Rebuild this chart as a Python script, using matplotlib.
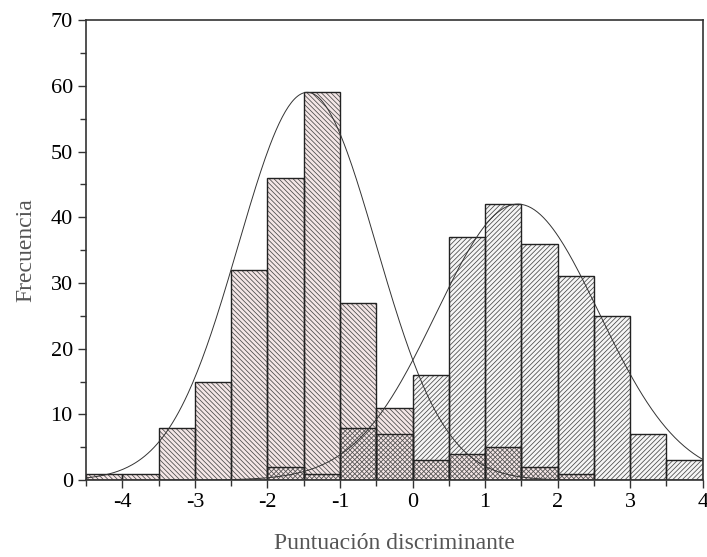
import numpy as np
import matplotlib
import matplotlib.pyplot as plt

matplotlib.rcParams['font.family'] = "serif"
matplotlib.rcParams['font.serif'] = ["Liberation Serif", "DejaVu Serif"]
matplotlib.rcParams['hatch.linewidth'] = 0.55
matplotlib.rcParams['axes.unicode_minus'] = False

# bin left edges (width 0.5)
bin_edges = np.arange(-4.5, 4.0, 0.5)
# group 1 (left, pink)
group1 = [1, 1, 8, 15, 32, 46, 59, 27, 11, 3, 4, 5, 2, 1, 0, 0, 0]
# group 2 (right, grey)
group2 = [0, 0, 0, 0, 0, 2, 1, 8, 7, 16, 37, 42, 36, 31, 25, 7, 3]

# fitted normal curves: amplitude, mean, sigma
curve1 = (59, -1.45, 0.95)
curve2 = (42, 1.45, 1.12)

width = 0.5
edge = "#222222"
hatch_col = "#484848"

fig = plt.figure(figsize=(7.07, 5.57), dpi=100)
ax = fig.add_axes([0.1216, 0.138, 0.8724, 0.826])

# faces + hatching
ax.bar(bin_edges, group2, width=width, align='edge', color="#f6f6f6",
       edgecolor='none', linewidth=0)
ax.bar(bin_edges, group1, width=width, align='edge', color="#f4e6e6",
       edgecolor=hatch_col, linewidth=0, hatch='\\' * 7)
ax.bar(bin_edges, group2, width=width, align='edge', color='none',
       edgecolor=hatch_col, linewidth=0, hatch='/' * 7)
# outlines
ax.bar(bin_edges, group1, width=width, align='edge', color='none',
       edgecolor=edge, linewidth=1.0)
ax.bar(bin_edges, group2, width=width, align='edge', color='none',
       edgecolor=edge, linewidth=1.0)

x = np.linspace(-4.5, 4, 400)
for amp, mu, sd in (curve1, curve2):
    ax.plot(x, amp * np.exp(-(x - mu) ** 2 / (2 * sd ** 2)), color="#333333", lw=0.7)

ax.set_xlim(-4.5, 4)
ax.set_ylim(0, 70)
ax.set_xticks(np.arange(-4, 5, 1))
ax.set_xticks(np.arange(-4.5, 4.01, 0.5), minor=True)
ax.set_yticks(np.arange(0, 71, 10))
ax.set_yticks(np.arange(0, 71, 5), minor=True)
ax.tick_params(which='both', direction='out', labelsize=16, color="#333333", width=1)
ax.tick_params(which='major', length=6)
ax.tick_params(which='minor', length=4)
for s in ax.spines.values():
    s.set_color("#333333")
    s.set_linewidth(1.2)

ax.set_xlabel('Puntuación discriminante', fontsize=17, color="#555555", labelpad=15)
ax.set_ylabel('Frecuencia', fontsize=17, color="#555555", labelpad=10)

plt.savefig("out.png", dpi=100)
